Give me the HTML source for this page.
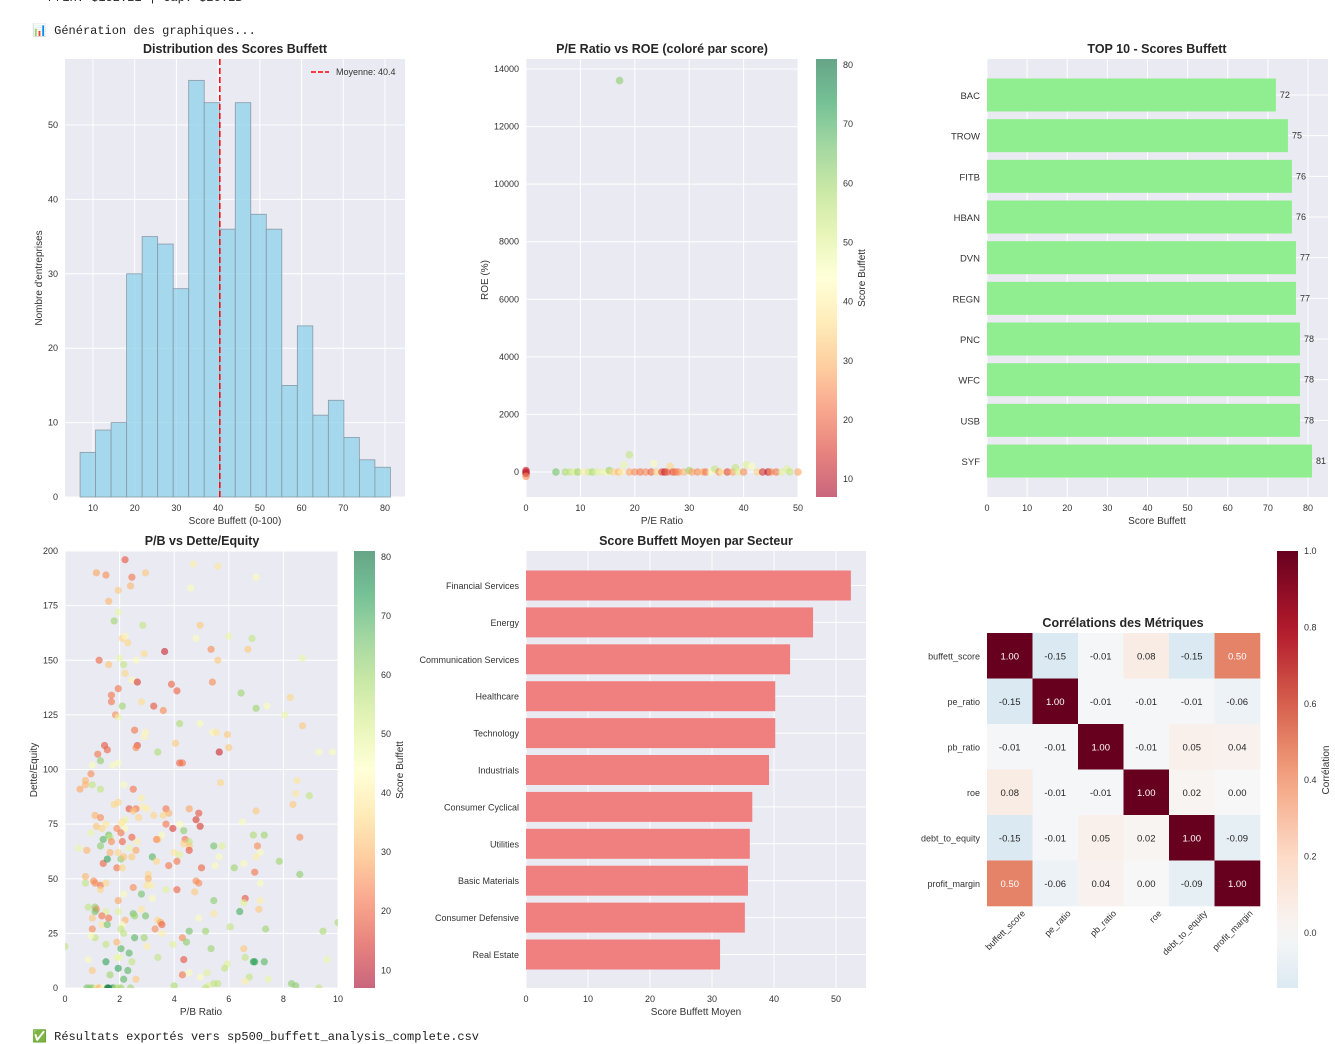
<!DOCTYPE html>
<html><head><meta charset="utf-8">
<style>
html,body{margin:0;padding:0;background:#fff;width:1335px;height:1034px;overflow:hidden}
.con{position:absolute;font-family:"Liberation Mono",monospace;font-size:12px;color:#222;white-space:pre}
svg{position:absolute;left:0;top:0}
svg text{font-family:"Liberation Sans","DejaVu Sans",sans-serif}
</style></head>
<body>
<div class="con" style="left:48px;top:-9px">Prix: $152.21 | Cap: $20.1B</div>
<div class="con" style="left:32px;top:23px">📊 Génération des graphiques...</div>
<div class="con" style="left:32px;top:1029px">✅ Résultats exportés vers sp500_buffett_analysis_complete.csv</div>
<svg id="s" width="1335" height="1034"></svg>
<script>
// ---------- data ----------
const histCounts=[6,9,10,30,35,34,28,56,53,36,53,38,36,15,23,11,13,8,5,4];
const histStart=6.9, histBin=3.72, meanScore=40.4;
const histXTicks=[10,20,30,40,50,60,70,80];
const histYTicks=[0,10,20,30,40,50];

const peVals=[0,0,0,0,5.5,7.2,8,8.8,9.5,10.5,11.5,12.2,13,14,15,15.3,16,17,17.5,18,19,19,20,21,22,23,23.5,24,25,25.5,26,26.5,27,27.5,28,29,30,30.5,31.5,32.5,33,34,34.7,35.5,36,37,38,38.5,39,40,40.5,41.5,42.5,43.5,44.5,45,46,47,48,48.5,50,17.2];
const roeVals=[-50,0,50,-150,0,0,0,0,0,0,0,0,0,0,0,50,0,0,0,250,0,600,0,0,0,0,300,0,0,0,0,200,0,0,0,0,50,0,0,0,0,0,100,0,0,0,0,150,0,0,250,200,0,0,0,0,0,0,100,0,0,13600];
const peScores=[8,10,12,25,65,58,55,50,60,40,52,58,50,48,42,60,35,30,40,48,28,55,25,22,25,20,45,35,17,12,20,35,18,22,25,30,60,28,25,30,22,45,55,25,40,17,28,55,50,25,50,45,35,14,10,25,22,50,50,55,28,62];
const peXTicks=[0,10,20,30,40,50];
const roeYTicks=[0,2000,4000,6000,8000,10000,12000,14000];
const cbTicks=[10,20,30,40,50,60,70,80];

const topNames=["BAC","TROW","FITB","HBAN","DVN","REGN","PNC","WFC","USB","SYF"];
const topScores=[72,75,76,76,77,77,78,78,78,81];
const topXTicks=[0,10,20,30,40,50,60,70,80];

const pbPts=[[2.2,196,18],[1.15,190,28],[1.5,189,25],[2.45,188,22],[2.95,190,33],[4.7,194,40],[5.6,193,38],[7.0,188,43],[1.95,182,33],[2.4,184,30],[1.6,177,30],[1.95,172,48],[1.8,168,60],[2.85,166,55],[4.6,183,45],[4.95,166,33],[2.1,160,35],[2.3,158,35],[2.2,161,42],[2.9,153,36],[2.0,151,48],[2.6,150,45],[1.25,150,20],[1.6,148,32],[2.15,148,55],[3.65,154,12],[4.8,160,45],[5.35,155,25],[5.6,150,33],[6.0,161,48],[6.7,155,33],[6.85,160,55],[8.7,151,48],[2.2,144,35],[2.45,141,42],[2.65,140,15],[1.95,137,22],[3.9,139,20],[4.1,136,20],[5.4,140,25],[6.45,135,60],[1.7,134,22],[1.7,131,22],[2.8,131,36],[3.25,129,18],[3.6,127,25],[2.1,129,60],[7.0,128,60],[7.4,129,45],[8.25,133,35],[1.85,125,25],[1.95,124,48],[4.2,121,58],[4.95,121,45],[8.05,125,48],[2.55,118,22],[2.95,117,42],[2.9,115,42],[5.4,117,42],[5.55,117,38],[5.95,116,33],[8.7,120,33],[1.45,111,18],[1.55,109,20],[2.65,111,17],[2.6,110,25],[4.05,112,33],[6.0,110,33],[5.65,108,12],[3.4,108,58],[9.3,108,45],[9.8,108,45],[1.2,107,22],[1.3,104,62],[1.0,102,45],[1.75,102,45],[1.95,103,45],[4.2,103,20],[4.3,103,22],[0.95,98,25],[0.75,95,30],[0.75,93,30],[0.55,91,28],[1.0,93,55],[1.3,91,55],[2.15,93,45],[2.5,91,22],[5.7,94,35],[8.5,95,38],[8.45,89,38],[8.95,88,55],[2.8,87,40],[1.95,85,35],[1.8,84,35],[2.85,83,40],[3.0,82,40],[8.35,84,33],[2.35,82,18],[2.6,82,22],[2.5,81,33],[3.7,82,22],[3.8,80,30],[3.6,79,35],[3.25,79,35],[4.55,82,28],[4.9,80,18],[7.0,81,33],[1.1,79,30],[1.3,78,25],[2.7,78,35],[2.2,77,48],[2.1,76,38],[2.05,75,40],[1.5,75,38],[1.15,74,32],[1.35,73,35],[1.9,73,25],[2.2,73,45],[0.95,71,48],[2.05,71,22],[3.7,75,22],[4.8,77,15],[4.95,74,15],[3.95,73,15],[4.35,72,62],[4.2,75,45],[6.5,76,45],[1.6,70,65],[1.65,69,55],[2.45,69,20],[3.55,70,45],[6.9,70,58],[7.3,70,60],[8.6,69,25],[1.4,68,68],[1.3,65,62],[1.7,67,25],[2.1,67,20],[2.65,67,40],[3.4,68,33],[3.35,68,25],[4.4,68,22],[4.55,67,55],[5.45,65,65],[5.75,65,50],[4.35,66,35],[4.55,65,33],[7.05,65,25],[0.5,64,48],[0.8,63,30],[1.65,62,30],[1.95,62,35],[2.6,63,28],[2.35,64,48],[3.2,60,68],[4.0,62,38],[4.2,61,50],[4.55,63,18],[7.15,62,45],[1.4,57,20],[1.55,59,72],[2.05,59,62],[2.15,60,32],[2.45,60,33],[3.35,58,35],[4.1,58,22],[5.65,60,45],[5.5,56,45],[6.55,57,45],[7.0,60,40],[7.85,58,60],[1.9,55,22],[2.1,55,35],[3.8,56,22],[5.0,55,20],[6.2,55,60],[8.6,52,62],[0.75,51,30],[0.75,48,55],[1.05,49,25],[1.1,48,25],[1.3,47,22],[1.3,45,35],[1.5,48,35],[3.05,52,35],[3.05,50,30],[3.0,47,38],[3.15,47,40],[4.8,49,25],[4.9,48,25],[2.5,46,25],[4.1,45,20],[3.7,45,50],[4.75,44,33],[6.95,53,22],[7.15,48,45],[2.15,43,45],[2.8,43,65],[1.95,40,28],[3.2,41,45],[5.45,40,62],[6.6,41,18],[6.55,39,50],[7.15,40,40],[0.85,37,55],[1.1,37,62],[1.15,36,25],[1.1,35,65],[1.5,35,50],[1.95,35,50],[2.5,34,65],[2.55,33,60],[2.8,36,38],[2.95,33,65],[6.4,35,70],[7.1,36,33],[1.0,32,33],[1.35,33,22],[1.6,32,22],[2.2,31,30],[1.35,29,38],[1.55,29,65],[2.1,29,45],[2.05,27,55],[1.0,27,25],[3.4,31,35],[3.5,30,28],[3.55,29,20],[3.3,27,25],[3.55,25,40],[4.9,32,45],[5.45,34,38],[1.1,23,55],[0.95,24,45],[2.15,25,55],[2.55,23,68],[2.9,23,60],[4.55,26,65],[5.15,26,60],[6.05,28,55],[7.35,27,60],[9.45,26,58],[10,30,58],[0,19,55],[1.5,20,55],[1.9,21,30],[2.05,18,68],[3.0,19,40],[3.95,20,50],[4.3,23,25],[4.45,21,62],[5.35,18,60],[6.55,18,33],[1.9,14,48],[2.0,14,48],[2.35,16,68],[2.45,12,55],[0.85,13,45],[1.5,12,72],[3.4,14,55],[4.35,13,18],[6.6,14,55],[6.9,12,72],[6.95,12,72],[7.3,12,68],[9.6,13,48],[5.95,11,50],[5.85,9,55],[1.0,8,33],[1.95,9,72],[2.3,8,68],[1.65,6,60],[2.15,4,68],[2.6,4,33],[4.3,6,22],[4.55,7,45],[4.95,5,45],[5.2,7,50],[6.75,5,55],[7.45,4,48],[6.6,3,40],[5.45,2,55],[5.6,2,55],[5.25,1,50],[4.0,1,58],[8.3,2,62],[8.45,1,62],[9.3,0,55],[0.8,0,65],[0.9,0,62],[1.0,0,62],[1.15,0,38],[1.25,0,30],[1.4,0,45],[1.55,0,78],[1.6,0,80],[1.75,0,75],[1.85,0,58],[1.95,0,55],[2.05,0,60],[2.4,0,60],[5.15,0,55]];
const pbXTicks=[0,2,4,6,8,10];
const deYTicks=[0,25,50,75,100,125,150,175,200];

const sectors=["Financial Services","Energy","Communication Services","Healthcare","Technology","Industrials","Consumer Cyclical","Utilities","Basic Materials","Consumer Defensive","Real Estate"];
const sectorScores=[52.4,46.3,42.6,40.2,40.2,39.2,36.5,36.1,35.8,35.3,31.3];
const sectorXTicks=[0,10,20,30,40,50];

const corrLabels=["buffett_score","pe_ratio","pb_ratio","roe","debt_to_equity","profit_margin"];
const corr=[[1,-0.15,-0.01,0.08,-0.15,0.50],[-0.15,1,-0.01,-0.01,-0.01,-0.06],[-0.01,-0.01,1,-0.01,0.05,0.04],[0.08,-0.01,-0.01,1,0.02,0.00],[-0.15,-0.01,0.05,0.02,1,-0.09],[0.50,-0.06,0.04,0.00,-0.09,1]];
const corrTicks=[0,0.2,0.4,0.6,0.8,1.0];

// ---------- helpers ----------
const S=document.getElementById('s');
const NS='http://www.w3.org/2000/svg';
function mk(tag,at,parent){const e=document.createElementNS(NS,tag);for(const k in at)e.setAttribute(k,at[k]);(parent||S).appendChild(e);return e;}
function txt(x,y,s,at){const a=Object.assign({x:x,y:y,'font-size':10,fill:'#333'},at||{});const e=mk('text',a);e.style.fill=a.fill;e.textContent=s;return e;}
function lin(d0,d1,r0,r1){return v=>r0+(v-d0)*(r1-r0)/(d1-d0);}
function hex(c){return [parseInt(c.slice(1,3),16),parseInt(c.slice(3,5),16),parseInt(c.slice(5,7),16)];}
function interp(stops,t){t=Math.max(0,Math.min(1,t));const n=stops.length-1;const i=Math.min(n-1,Math.floor(t*n));const f=t*n-i;const a=hex(stops[i]),b=hex(stops[i+1]);return 'rgb('+a.map((v,k)=>Math.round(v+(b[k]-v)*f)).join(',')+')';}
const RdYlGn=['#a50026','#d73027','#f46d43','#fdae61','#fee08b','#ffffbf','#d9ef8b','#a6d96a','#66bd63','#1a9850','#006837'];
const RdBu_r=['#053061','#2166ac','#4393c3','#92c5de','#d1e5f0','#f7f7f7','#fddbc7','#f4a582','#d6604d','#b2182b','#67001f'];
const scoreMin=7, scoreMax=81;
const scoreColor=v=>interp(RdYlGn,(v-scoreMin)/(scoreMax-scoreMin));
const BG='#eaeaf2';

function axesBg(x0,y0,x1,y1,name){const r=mk('rect',{x:x0,y:y0,width:x1-x0,height:y1-y0,fill:BG});}
function vgrid(xs,y0,y1){xs.forEach(x=>mk('line',{x1:x,x2:x,y1:y0,y2:y1,stroke:'#fff','stroke-width':1}));}
function hgrid(ys,x0,x1){ys.forEach(y=>mk('line',{x1:x0,x2:x1,y1:y,y2:y,stroke:'#fff','stroke-width':1}));}
function title(x,y,s,name){const t=txt(x,y,s,{'font-size':12.5,'font-weight':'bold','text-anchor':'middle',fill:'#262626'});}
function colorbar(x,y0,y1,dmin,dmax,ticks,stops,alpha,label,name,fmt){
  const g=mk('g',{});
  const id='g'+name;const grad=mk('linearGradient',{id:id,x1:0,y1:1,x2:0,y2:0},mk('defs',{},g));
  for(let i=0;i<=20;i++){const t=i/20;mk('stop',{offset:t,'stop-color':stops(t),'stop-opacity':alpha},grad);}
  mk('rect',{x:x,y:y0,width:21,height:y1-y0,fill:'url(#'+id+')'},g);
  const sy=lin(dmin,dmax,y1,y0);
  ticks.forEach(v=>{const tt=txt(x+27,sy(v)+3,fmt?fmt(v):String(v),{'font-size':9});g.appendChild(tt);});
  return sy;
}

// ---------- Panel 1: histogram ----------
(function(){
  const x0=65,x1=405,y0=59,y1=497;
  axesBg(x0,y0,x1,y1,'histogram-plot-area');
  const sx=lin(10,80,93,385), sy=lin(0,50,497,125);
  vgrid(histXTicks.map(sx),y0,y1); hgrid(histYTicks.map(sy),x0,x1);
  histCounts.forEach((c,i)=>{
    const a=histStart+i*histBin;
    const r=mk('rect',{x:sx(a),y:sy(c),width:sx(a+histBin)-sx(a),height:sy(0)-sy(c),fill:'#87ceeb','fill-opacity':0.7,stroke:'#8a9aa6','stroke-width':0.8});
    
    
  });
  const ml=mk('line',{x1:sx(meanScore),x2:sx(meanScore),y1:y0,y2:y1,stroke:'#ff0000','stroke-width':1.5,'stroke-dasharray':'6,3'});
  
  
  const lg=mk('g',{});
  mk('line',{x1:311,x2:329,y1:72,y2:72,stroke:'#ff0000','stroke-width':1.5,'stroke-dasharray':'5,2'},lg);
  lg.appendChild(txt(336,75,'Moyenne: '+meanScore,{'font-size':9}));
  histXTicks.forEach(v=>txt(sx(v),511,v,{'font-size':9,'text-anchor':'middle'}));
  histYTicks.forEach(v=>txt(58,sy(v)+3,v,{'font-size':9,'text-anchor':'end'}));
  title(235,53,'Distribution des Scores Buffett','histogram-title');
  const xl=txt(235,524,'Score Buffett (0-100)',{'text-anchor':'middle'});
  const yl=txt(0,0,"Nombre d'entreprises",{'text-anchor':'middle',transform:'translate(42,278) rotate(-90)'});
})();

// ---------- Panel 2: PE vs ROE ----------
(function(){
  const x0=526,x1=798,y0=59,y1=497;
  axesBg(x0,y0,x1,y1,'pe-roe-plot-area');
  const sx=lin(0,50,526,798), sy=lin(0,14000,472,69);
  vgrid(peXTicks.map(sx),y0,y1); hgrid(roeYTicks.map(sy),x0,x1);
  peVals.forEach((p,i)=>{
    const c=mk('circle',{cx:sx(p),cy:sy(roeVals[i]),r:3.8,fill:scoreColor(peScores[i]),'fill-opacity':0.6});
    
    
  });
  peXTicks.forEach(v=>txt(sx(v),511,v,{'font-size':9,'text-anchor':'middle'}));
  roeYTicks.forEach(v=>txt(519,sy(v)+3,v,{'font-size':9,'text-anchor':'end'}));
  title(662,53,'P/E Ratio vs ROE (coloré par score)','pe-roe-title');
  const xl=txt(662,524,'P/E Ratio',{'text-anchor':'middle'});
  const yl=txt(0,0,'ROE (%)',{'text-anchor':'middle',transform:'translate(488,280) rotate(-90)'});
  colorbar(816,59,497,scoreMin,scoreMax,cbTicks,t=>interp(RdYlGn,t),0.6,'Score Buffett','pe-roe-colorbar');
  const cl=txt(0,0,'Score Buffett',{'text-anchor':'middle',transform:'translate(865,278) rotate(-90)'});
})();

// ---------- Panel 3: top 10 ----------
(function(){
  const x0=987,x1=1328,y0=59,y1=497;
  axesBg(x0,y0,x1,y1,'top10-plot-area');
  const sx=lin(0,80,987,1308), sy=i=>95+i*40.67;
  vgrid(topXTicks.map(sx),y0,y1); hgrid(topNames.map((n,i)=>sy(i)),x0,x1);
  topNames.forEach((n,i)=>{
    const r=mk('rect',{x:sx(0),y:sy(i)-16.5,width:sx(topScores[i])-sx(0),height:33,fill:'#90ee90'});
    
    
    txt(sx(topScores[i])+4,sy(i)+3,topScores[i],{'font-size':9});
    txt(980,sy(i)+4,n,{'font-size':9.5,'text-anchor':'end'});
  });
  topXTicks.forEach(v=>txt(sx(v),511,v,{'font-size':9,'text-anchor':'middle'}));
  title(1157,53,'TOP 10 - Scores Buffett','top10-title');
  const xl=txt(1157,524,'Score Buffett',{'text-anchor':'middle'});
})();

// ---------- Panel 4: PB vs D/E ----------
(function(){
  const x0=65,x1=338,y0=551,y1=988;
  axesBg(x0,y0,x1,y1,'pb-de-plot-area');
  const sx=lin(0,10,65,338), sy=lin(0,200,988,551);
  vgrid(pbXTicks.map(sx),y0,y1); hgrid(deYTicks.map(sy),x0,x1);
  const g=mk('g',{'clip-path':'url(#c4)'});
  const cp=mk('clipPath',{id:'c4'},mk('defs',{}));mk('rect',{x:x0,y:y0,width:x1-x0,height:y1-y0},cp);
  pbPts.forEach(p=>{
    const c=mk('circle',{cx:sx(p[0]),cy:sy(p[1]),r:3.6,fill:scoreColor(p[2]),'fill-opacity':0.6},g);
    
    
  });
  pbXTicks.forEach(v=>txt(sx(v),1002,v,{'font-size':9,'text-anchor':'middle'}));
  deYTicks.forEach(v=>txt(58,sy(v)+3,v,{'font-size':9,'text-anchor':'end'}));
  title(202,545,'P/B vs Dette/Equity','pb-de-title');
  const xl=txt(201,1015,'P/B Ratio',{'text-anchor':'middle'});
  const yl=txt(0,0,'Dette/Equity',{'text-anchor':'middle',transform:'translate(37,770) rotate(-90)'});
  colorbar(354,551,988,scoreMin,scoreMax,cbTicks,t=>interp(RdYlGn,t),0.6,'Score Buffett','pb-de-colorbar');
  const cl=txt(0,0,'Score Buffett',{'text-anchor':'middle',transform:'translate(403,770) rotate(-90)'});
})();

// ---------- Panel 5: sectors ----------
(function(){
  const x0=526,x1=866,y0=551,y1=988;
  axesBg(x0,y0,x1,y1,'sector-plot-area');
  const sx=lin(0,50,526,836), sy=i=>585.5+i*36.9;
  vgrid(sectorXTicks.map(sx),y0,y1); hgrid(sectors.map((n,i)=>sy(i)),x0,x1);
  sectors.forEach((n,i)=>{
    const r=mk('rect',{x:sx(0),y:sy(i)-15,width:sx(sectorScores[i])-sx(0),height:30,fill:'#f08080'});
    
    
    txt(519,sy(i)+3.5,n,{'font-size':9,'text-anchor':'end'});
  });
  sectorXTicks.forEach(v=>txt(sx(v),1002,v,{'font-size':9,'text-anchor':'middle'}));
  title(696,545,'Score Buffett Moyen par Secteur','sector-title');
  const xl=txt(696,1015,'Score Buffett Moyen',{'text-anchor':'middle'});
})();

// ---------- Panel 6: heatmap ----------
(function(){
  const x0=987,y0=633,cs=45.5;
  const cc=v=>interp(RdBu_r,(v+1)/2);
  corr.forEach((row,i)=>row.forEach((v,j)=>{
    const r=mk('rect',{x:x0+j*cs,y:y0+i*cs,width:cs+0.3,height:cs+0.3,fill:cc(v)});
    
    
    txt(x0+j*cs+cs/2,y0+i*cs+cs/2+3.5,v.toFixed(2),{'font-size':9.5,'text-anchor':'middle',fill:v>=0.45?'#ffffff':'#262626'});
  }));
  corrLabels.forEach((n,i)=>{
    txt(980,y0+i*cs+cs/2+3.5,n,{'font-size':9,'text-anchor':'end'});
    const cx=x0+i*cs+cs/2+16;
    txt(0,0,n,{'font-size':9,'text-anchor':'end',transform:'translate('+cx+',914) rotate(-45)'});
  });
  title(1123,627,'Corrélations des Métriques','heatmap-title');
  colorbar(1277,551,988,-0.144,1.0,corrTicks,t=>cc(-0.144+t*1.144),1,'Corrélation','corr-colorbar',v=>v.toFixed(1));
  const cl=txt(0,0,'Corrélation',{'text-anchor':'middle',transform:'translate(1329,770) rotate(-90)'});
})();
</script>
</body></html>
